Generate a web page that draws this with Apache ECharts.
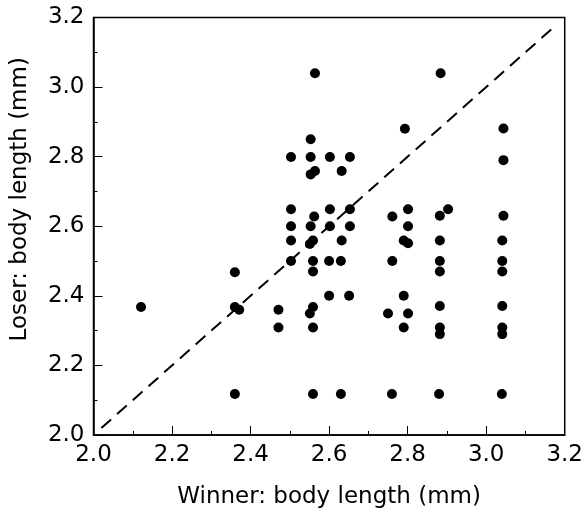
<!DOCTYPE html>
<html>
<head>
<meta charset="utf-8">
<script src="https://cdn.jsdelivr.net/npm/echarts@6/dist/echarts.min.js"></script>
<style>html,body{margin:0;padding:0;background:#fff;}#c{width:586px;height:514px;}</style>
</head>
<body>
<div id="c"></div>
<script>
// Winner body length (x) and loser body length (y), mm
var winnerLen = [
  2.121, 2.360, 2.360, 2.371, 2.360, 2.471, 2.471,
  2.503, 2.503, 2.503, 2.503, 2.503,
  2.564, 2.553, 2.553, 2.553, 2.564, 2.562, 2.553, 2.551, 2.559, 2.559, 2.559, 2.551, 2.559, 2.559, 2.559,
  2.602, 2.602, 2.602, 2.600, 2.600,
  2.653, 2.632, 2.653, 2.653, 2.632, 2.630, 2.651, 2.630,
  2.793, 2.761, 2.801, 2.801, 2.790, 2.801, 2.761, 2.790, 2.750, 2.801, 2.790, 2.760,
  2.884, 2.882, 2.903, 2.882, 2.882, 2.882, 2.882, 2.882, 2.882, 2.880,
  3.044, 3.044, 3.044, 3.041, 3.041, 3.041, 3.041, 3.041, 3.041, 3.040
];
var loserLen = [
  2.368, 2.468, 2.368, 2.360, 2.118, 2.360, 2.309,
  2.799, 2.649, 2.600, 2.559, 2.500,
  3.040, 2.850, 2.799, 2.749, 2.759, 2.628, 2.600, 2.549, 2.559, 2.500, 2.470, 2.349, 2.368, 2.309, 2.118,
  2.799, 2.649, 2.600, 2.500, 2.400,
  2.799, 2.759, 2.649, 2.600, 2.559, 2.500, 2.400, 2.118,
  2.880, 2.628, 2.649, 2.600, 2.559, 2.551, 2.500, 2.400, 2.349, 2.349, 2.309, 2.118,
  3.040, 2.630, 2.649, 2.559, 2.500, 2.470, 2.371, 2.309, 2.290, 2.118,
  2.881, 2.790, 2.630, 2.559, 2.500, 2.470, 2.371, 2.309, 2.290, 2.118
];
// equality line (winner = loser)
var equalLineX = [2.02, 3.175];
var equalLineY = [2.02, 3.175];

var xName = 'Winner: body length (mm)';
var yName = 'Loser: body length (mm)';
var axisMin = 2.0, axisMax = 3.2, axisStep = 0.2;

var pts = winnerLen.map(function (x, i) { return [x, loserLen[i]]; });
var linePts = equalLineX.map(function (x, i) { return [x, equalLineY[i]]; });

var font = 'DejaVu Sans';
var chart = echarts.init(document.getElementById('c'), null, {renderer: 'canvas'});
function axisCommon(name) {
  return {
    type: 'value', min: axisMin, max: axisMax, interval: axisStep,
    name: name, nameLocation: 'middle',
    axisLine: {show: true, lineStyle: {color: '#000', width: 1.5}},
    axisTick: {show: true, inside: true, length: 9, lineStyle: {color: '#000', width: 1}},
    minorTick: {show: true, splitNumber: 2, length: 4, lineStyle: {color: '#000', width: 1}},
    splitLine: {show: false},
    axisLabel: {color: '#000', fontFamily: font, fontSize: 23,
      formatter: function (v) { return v.toFixed(1); }},
    nameTextStyle: {color: '#000', fontFamily: font, fontSize: 23}
  };
}
var xa = axisCommon(xName);
xa.nameGap = 51;
xa.axisLabel.margin = 9;
var ya = axisCommon(yName);
ya.nameGap = 62;
ya.axisLabel.margin = 9;
ya.nameTextStyle.padding = [0, 0, 0, 54];

chart.setOption({
  backgroundColor: '#fff',
  animation: false,
  grid: {left: 93.5, right: 21, top: 17.5, bottom: 77, show: true, borderColor: '#000', borderWidth: 1.5, backgroundColor: 'transparent'},
  xAxis: xa,
  yAxis: ya,
  series: [
    {type: 'line', data: linePts, symbol: 'none', silent: true,
     lineStyle: {color: '#000', width: 2, type: [13, 8]}},
    {type: 'scatter', data: pts, symbol: 'circle', symbolSize: 10,
     itemStyle: {color: '#000', opacity: 1}}
  ]
});
</script>
</body>
</html>
